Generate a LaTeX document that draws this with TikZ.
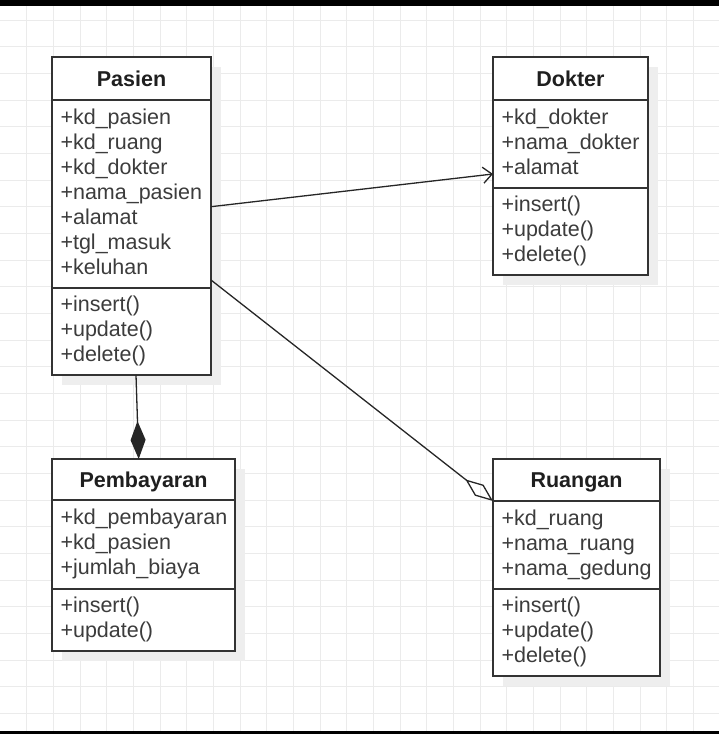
\documentclass[tikz,border=0pt]{standalone}
\usepackage{fontspec}
\setmainfont{Liberation Sans}
\usetikzlibrary{positioning,shadows,arrows.meta}
\definecolor{garis}{HTML}{333333}
\definecolor{teks}{HTML}{3C3C3C}
\definecolor{kisi}{HTML}{EBEBEB}
\definecolor{bayang}{HTML}{EEEEEE}
\tikzset{
    bagian/.style={draw=garis, line width=1.6pt, fill=white, rectangle, outer sep=0pt,
        inner xsep=8.5pt, inner ysep=0pt,
        drop shadow={shadow xshift=10pt, shadow yshift=-10pt, fill=bayang, opacity=1}},
    judul/.style={bagian, font=\fontsize{21.5}{25}\selectfont\bfseries, text=black!88,
        text height=15.4pt, text depth=0pt, anchor=north west},
    isi/.style={bagian, font=\fontsize{21.5}{25}\selectfont, text=teks, align=left,
        execute at begin node=\strut, execute at end node=\strut},
    hubung/.style={line width=1.3pt, color=black!85},
}

\begin{document}
\begin{tikzpicture}[x=1pt,y=-1pt]
\useasboundingbox (0,0) rectangle (719,734);

% grid
\begin{scope}
\clip (0,5) rectangle (719,731);
\foreach \i in {1,...,26} \draw[kisi, line width=1pt] (\i*26.67,0) -- (\i*26.67,734);
\foreach \j in {0,...,27} \draw[kisi, line width=1pt] (0,20+\j*26.67) -- (719,20+\j*26.67);
\end{scope}
\fill[black] (0,0) rectangle (719,5.5);
\fill[black] (0,731) rectangle (719,734);

% Pasien
\node[judul, minimum width=159pt, minimum height=43pt] (pasien) at (52,57) {Pasien};
\node[isi, text width=142pt, minimum height=188pt, below=0pt of pasien] (pasienAtr)
    {+kd\_pasien\\+kd\_ruang\\+kd\_dokter\\+nama\_pasien\\+alamat\\+tgl\_masuk\\+keluhan};
\node[isi, text width=142pt, minimum height=87pt, below=0pt of pasienAtr] (pasienOp)
    {+insert()\\+update()\\+delete()};

% Dokter
\node[judul, minimum width=155pt, minimum height=43pt] (dokter) at (493,57) {Dokter};
\node[isi, text width=138pt, minimum height=88pt, below=0pt of dokter] (dokterAtr)
    {+kd\_dokter\\+nama\_dokter\\+alamat};
\node[isi, text width=138pt, minimum height=87pt, below=0pt of dokterAtr] (dokterOp)
    {+insert()\\+update()\\+delete()};

% Pembayaran
\node[judul, minimum width=183pt, minimum height=41pt] (pembayaran) at (52,459) {Pembayaran};
\node[isi, text width=166pt, minimum height=89pt, below=0pt of pembayaran] (pembayaranAtr)
    {+kd\_pembayaran\\+kd\_pasien\\+jumlah\_biaya};
\node[isi, text width=166pt, minimum height=62pt, below=0pt of pembayaranAtr] (pembayaranOp)
    {+insert()\\+update()};

% Ruangan
\node[judul, minimum width=167pt, minimum height=42pt] (ruangan) at (493,459) {Ruangan};
\node[isi, text width=150pt, minimum height=88pt, below=0pt of ruangan] (ruanganAtr)
    {+kd\_ruang\\+nama\_ruang\\+nama\_gedung};
\node[isi, text width=150pt, minimum height=87pt, below=0pt of ruanganAtr] (ruanganOp)
    {+insert()\\+update()\\+delete()};

% relasi
\draw[hubung, -{Straight Barb[length=9pt,width=16pt]}] ([yshift=-12.7pt]pasienAtr.east) -- ([yshift=-30pt]dokterAtr.west);
\draw[hubung, -{Diamond[length=38pt,width=15pt]}] ([xshift=4.5pt]pasienOp.south) -- ([xshift=-4.8pt]pembayaran.north);
\draw[hubung, -{Diamond[open,length=35pt,width=14pt]}] ([yshift=-86pt]pasienAtr.east) -- (ruangan.south west);

\end{tikzpicture}
\end{document}
